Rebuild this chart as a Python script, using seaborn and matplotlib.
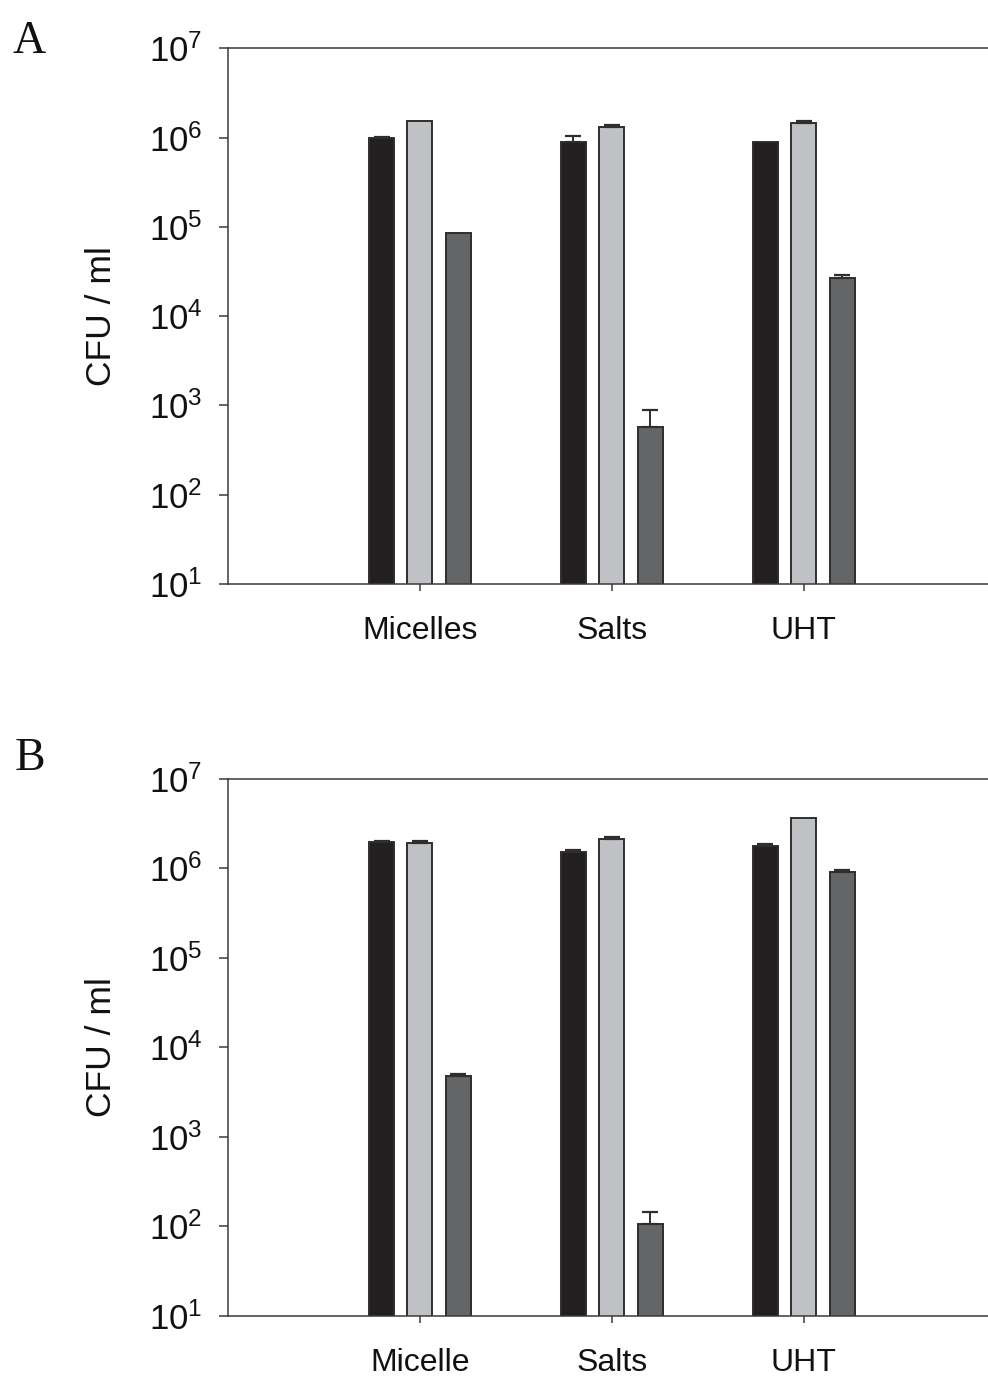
import matplotlib
matplotlib.use("Agg")
import matplotlib.pyplot as plt
import seaborn as sns
import numpy as np
import pandas as pd
from matplotlib.ticker import LogFormatterMathtext, NullLocator

# ---------------- data ----------------
series = ["S1", "S2", "S3"]
groups_a = ["Micelles", "Salts", "UHT"]
groups_b = ["Micelle", "Salts", "UHT"]
y_ticks = [1e1, 1e2, 1e3, 1e4, 1e5, 1e6, 1e7]

a_s1 = [9.9e5, 8.9e5, 8.9e5]
a_s2 = [1.53e6, 1.32e6, 1.47e6]
a_s3 = [8.6e4, 580, 2.66e4]
a_s1_err = [3e4, 1.4e5, 0]
a_s2_err = [0, 6e4, 6e4]
a_s3_err = [0, 310, 2.3e3]

b_s1 = [1.96e6, 1.54e6, 1.78e6]
b_s2 = [1.91e6, 2.14e6, 3.64e6]
b_s3 = [4.84e3, 107, 9.2e5]
b_s1_err = [9e4, 7e4, 1e5]
b_s2_err = [1.2e5, 1.2e5, 0]
b_s3_err = [2.2e2, 40, 5e4]

colors = ["#231f20", "#c0c1c4", "#646567"]
edge = "#2e2e2e"
axis_col = "#3a3a3a"

sns.set_theme(style="white")
plt.rcParams["font.family"] = ["Liberation Sans", "DejaVu Sans"]
plt.rcParams["mathtext.fontset"] = "custom"
plt.rcParams["mathtext.rm"] = "Liberation Sans"
plt.rcParams["mathtext.it"] = "Liberation Sans:italic"
plt.rcParams["mathtext.bf"] = "Liberation Sans:bold"
plt.rcParams["mathtext.default"] = "regular"

fig = plt.figure(figsize=(9.88, 13.79), dpi=100)
ax_a = fig.add_axes([0.2308, 0.5765, 0.7692, 0.3885])
ax_b = fig.add_axes([0.2308, 0.0457, 0.7692, 0.3894])


def panel(ax, groups, vals, errs):
    rows = []
    for s, v in zip(series, vals):
        for g, x in zip(groups, v):
            rows.append({"group": g, "series": s, "value": x})
    df = pd.DataFrame(rows)
    sns.barplot(data=df, x="group", y="value", hue="series", order=groups,
                hue_order=series, palette=colors, saturation=1, width=0.6,
                gap=0.35, edgecolor=edge, linewidth=1.4, errorbar=None,
                legend=False, ax=ax)
    ax.set_yscale("log")
    for cont, err in zip(ax.containers, errs):
        for bar, e in zip(cont, err):
            if e > 0:
                ax.errorbar(bar.get_x() + bar.get_width() / 2, bar.get_height(),
                            yerr=[[0], [e]], fmt="none", ecolor=edge,
                            elinewidth=1.4, capsize=5.75, capthick=1.6, zorder=5)
    ax.set_ylim(10, 1e7)
    ax.set_xlim(-1, 2.96)
    ax.set_yticks(y_ticks)
    ax.yaxis.set_major_formatter(LogFormatterMathtext())
    ax.yaxis.set_minor_locator(NullLocator())
    ax.set_xlabel("")
    ax.set_ylabel("CFU / ml", fontsize=25.5, color="#111111")
    ax.yaxis.set_label_coords(-0.145, 0.5)
    for side in ["left", "top", "bottom"]:
        ax.spines[side].set_visible(True)
        ax.spines[side].set_color(axis_col)
        ax.spines[side].set_linewidth(1.1)
    ax.spines["right"].set_visible(False)
    ax.tick_params(axis="y", direction="out", length=6.5, width=1.1,
                   color=axis_col, labelsize=25, pad=12, left=True,
                   labelcolor="#111111")
    ax.tick_params(axis="x", direction="out", length=5, width=1.1,
                   color=axis_col, labelsize=23, pad=18, bottom=True,
                   labelcolor="#111111")
    ax.grid(False)


panel(ax_a, groups_a, [a_s1, a_s2, a_s3], [a_s1_err, a_s2_err, a_s3_err])
panel(ax_b, groups_b, [b_s1, b_s2, b_s3], [b_s1_err, b_s2_err, b_s3_err])

fig.text(0.013, 0.9616, "A", fontsize=33, family=["Liberation Serif", "DejaVu Serif"],
         va="baseline", ha="left", color="#111111")
fig.text(0.015, 0.4416, "B", fontsize=33, family=["Liberation Serif", "DejaVu Serif"],
         va="baseline", ha="left", color="#111111")

fig.savefig("out.png", dpi=100, facecolor="white")
